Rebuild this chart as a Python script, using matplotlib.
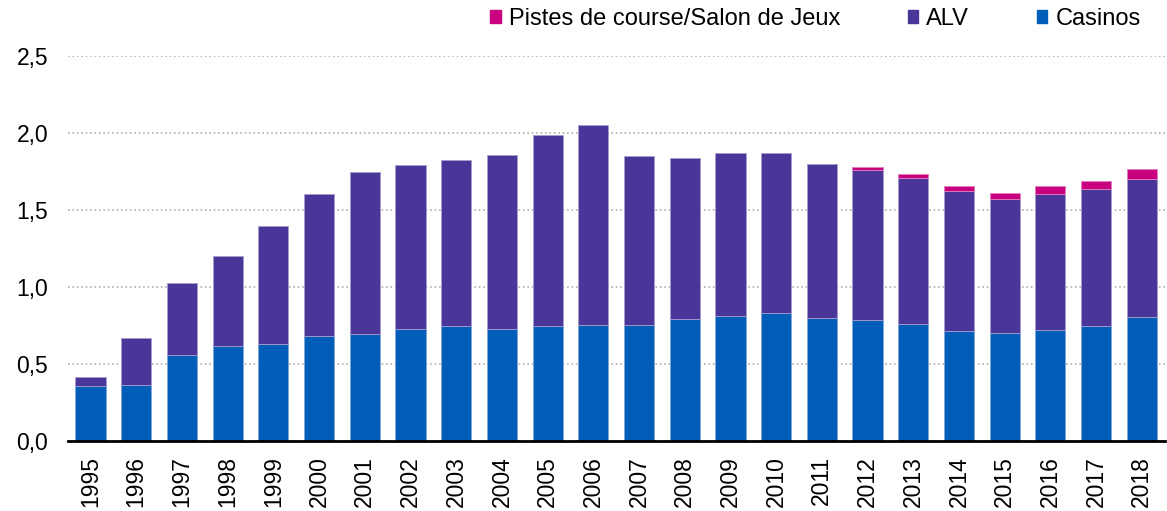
import matplotlib.pyplot as plt
import numpy as np
from matplotlib.patches import Patch

plt.rcParams['font.family'] = ['Liberation Sans', 'DejaVu Sans']

years = [str(y) for y in range(1995, 2019)]
casinos = [0.358, 0.365, 0.559, 0.617, 0.630, 0.682, 0.695, 0.727, 0.746, 0.727,
           0.749, 0.753, 0.755, 0.792, 0.811, 0.831, 0.798, 0.785, 0.762, 0.716,
           0.699, 0.721, 0.744, 0.803]
alv_top = [0.419, 0.669, 1.025, 1.202, 1.400, 1.607, 1.748, 1.791, 1.823, 1.855,
           1.985, 2.054, 1.853, 1.836, 1.873, 1.868, 1.801, 1.758, 1.711, 1.627,
           1.575, 1.607, 1.638, 1.704]
totals = [0.419, 0.669, 1.025, 1.202, 1.400, 1.607, 1.748, 1.791, 1.823, 1.855,
          1.985, 2.054, 1.853, 1.836, 1.873, 1.868, 1.801, 1.782, 1.737, 1.657,
          1.612, 1.655, 1.691, 1.765]

casinos = np.array(casinos)
alv = np.array(alv_top) - casinos
pistes = np.array(totals) - np.array(alv_top)

c_cas = '#005EB8'
c_alv = '#4A3699'
c_pis = '#C8007F'

fig = plt.figure(figsize=(11.67, 5.11), dpi=100)
ax = fig.add_axes([0.058, 0.137, 0.940, 0.753])

x = np.arange(len(years))
w = 0.66
ax.bar(x, casinos, w, color=c_cas, edgecolor='#7fa8d8', linewidth=0.6, zorder=3)
ax.bar(x, alv, w, bottom=casinos, color=c_alv, edgecolor='#a79bd0', linewidth=0.6, zorder=3)
m = pistes > 0
ax.bar(x[m], pistes[m], w, bottom=(casinos + alv)[m], color=c_pis,
       edgecolor='#e37fbf', linewidth=0.6, zorder=3)

ax.set_xlim(-0.5, len(years) - 0.5)
ax.set_ylim(0, 2.5)
ax.set_yticks([0, 0.5, 1.0, 1.5, 2.0, 2.5])
ax.set_yticklabels(['0,0', '0,5', '1,0', '1,5', '2,0', '2,5'], fontsize=16.5)
ax.set_xticks(x)
ax.set_xticklabels(years, rotation=90, fontsize=16.5)
ax.tick_params(axis='y', length=0, pad=14)
ax.tick_params(axis='x', length=0, pad=11)
ax.yaxis.grid(True, linestyle=':', color='#b0b0b0', linewidth=1.2, zorder=0)
for s in ['top', 'right', 'left']:
    ax.spines[s].set_visible(False)
ax.spines['bottom'].set_linewidth(2)
ax.spines['bottom'].set_zorder(4)

handles = [Patch(color=c_pis, label='Pistes de course/Salon de Jeux'),
           Patch(color=c_alv, label='ALV'),
           Patch(color=c_cas, label='Casinos')]
fig.legend(handles=handles, loc='upper left', bbox_to_anchor=(490 / 1167, 0.985), ncol=3,
           frameon=False, fontsize=17, handlelength=0.45, handleheight=0.45,
           handletextpad=0.35, columnspacing=2.85, borderpad=0, borderaxespad=0)

plt.savefig('out.png')
